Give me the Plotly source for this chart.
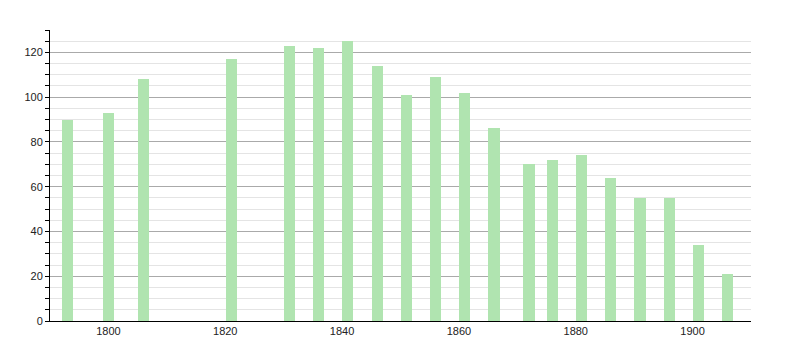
import plotly.graph_objects as go

years = [1793, 1800, 1806, 1821, 1831, 1836, 1841, 1846, 1851, 1856,
         1861, 1866, 1872, 1876, 1881, 1886, 1891, 1896, 1901, 1906]
population = [90, 93, 108, 117, 123, 122, 125, 114, 101, 109,
              102, 86, 70, 72, 74, 64, 55, 55, 34, 21]

fig = go.Figure(go.Bar(
    x=years, y=population, width=1.9,
    marker=dict(color="rgb(176,228,176)", line=dict(width=0)),
))

fig.update_layout(
    width=800, height=350,
    margin=dict(l=50, r=49, t=30, b=29),
    paper_bgcolor="white", plot_bgcolor="white",
    font=dict(family="Liberation Sans, Arial, sans-serif", size=11, color="#222"),
    showlegend=False,
    bargap=0,
)
fig.update_xaxes(
    range=[1790, 1910], tickvals=[1800, 1820, 1840, 1860, 1880, 1900],
    showgrid=False, showline=True, linecolor="black", linewidth=1,
    ticks="", zeroline=False,
)
fig.update_yaxes(
    range=[0, 130], dtick=20, showgrid=True, gridcolor="#aaaaaa", gridwidth=1,
    showline=True, linecolor="black", linewidth=1,
    ticks="outside", ticklen=4, tickcolor="black", zeroline=False,
    minor=dict(dtick=5, showgrid=True, gridcolor="#e4e4e4", gridwidth=1,
               ticks="outside", ticklen=4, tickcolor="black"),
)

fig.write_html("out.html")
